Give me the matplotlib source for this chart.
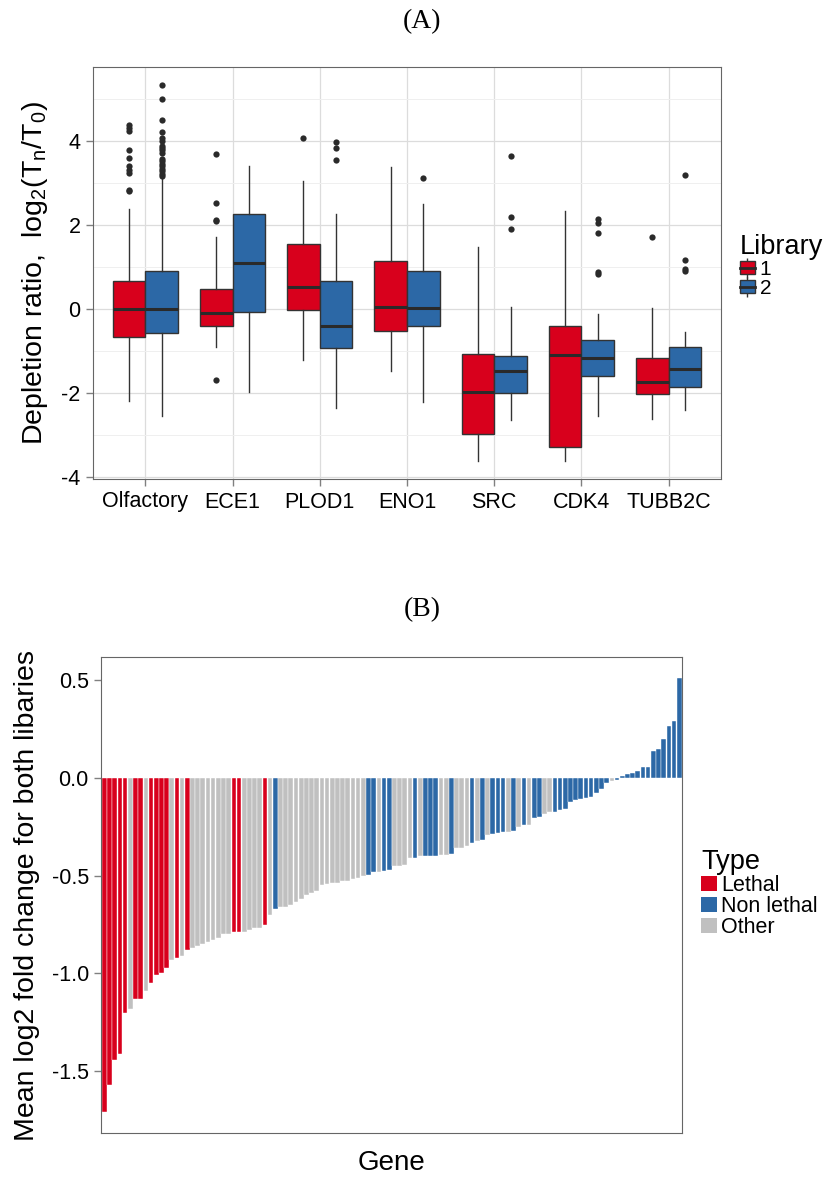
import numpy as np
import matplotlib
matplotlib.use("Agg")
import matplotlib.pyplot as plt
from matplotlib.patches import Patch
from matplotlib.lines import Line2D
from matplotlib.legend_handler import HandlerTuple

plt.rcParams['font.family'] = ['Liberation Sans', 'DejaVu Sans']
plt.rcParams['axes.unicode_minus'] = False

# ---- panel A data: box stats ----
genes = ['Olfactory', 'ECE1', 'PLOD1', 'ENO1', 'SRC', 'CDK4', 'TUBB2C']

lib1_q1 = [-0.68, -0.40, -0.04, -0.52, -2.99, -3.29, -2.02]
lib1_med = [0.00, -0.09, 0.51, 0.05, -1.97, -1.11, -1.74]
lib1_q3 = [0.65, 0.47, 1.54, 1.13, -1.07, -0.42, -1.16]
lib1_lo = [-2.19, -0.91, -1.23, -1.48, -3.62, -3.62, -2.62]
lib1_hi = [2.37, 1.71, 3.03, 3.37, 1.47, 2.33, 0.02]
lib1_out = [[2.79, 2.83, 3.23, 3.31, 3.39, 3.59, 3.77, 4.22, 4.30, 4.36],
            [3.69, 2.52, 2.12, 2.08, -1.69],
            [4.05],
            [],
            [],
            [],
            [1.70]]

lib2_q1 = [-0.58, -0.08, -0.94, -0.40, -2.00, -1.59, -1.87]
lib2_med = [0.00, 1.09, -0.42, 0.02, -1.48, -1.16, -1.44]
lib2_q3 = [0.90, 2.25, 0.66, 0.89, -1.13, -0.74, -0.90]
lib2_lo = [-2.55, -1.98, -2.36, -2.23, -2.64, -2.54, -2.40]
lib2_hi = [3.15, 3.40, 2.26, 2.49, 0.05, -0.12, -0.56]
lib2_out = [[5.32, 5.00, 4.48, 4.21, 4.05, 4.00, 3.88, 3.82, 3.77, 3.71,
             3.56, 3.51, 3.45, 3.39, 3.33, 3.27, 3.20, 3.15],
            [],
            [3.97, 3.83, 3.54],
            [3.10],
            [3.64, 2.19, 1.90],
            [2.13, 2.05, 1.81, 0.87, 0.82],
            [3.17, 1.16, 0.95, 0.89]]

# ---- panel B data: mean log2 fold change per gene (sorted) ----
fold_change = [
    -1.71, -1.57, -1.44, -1.41, -1.20, -1.18, -1.13, -1.13, -1.09, -1.05,
    -1.01, -1.00, -0.97, -0.93, -0.92, -0.91, -0.88, -0.87, -0.86, -0.85,
    -0.84, -0.83, -0.82, -0.80, -0.80, -0.79, -0.79, -0.79, -0.78, -0.77,
    -0.77, -0.75, -0.70, -0.67, -0.66, -0.66, -0.65, -0.635, -0.62, -0.60,
    -0.59, -0.58, -0.55, -0.545, -0.54, -0.54, -0.53, -0.53, -0.52, -0.51,
    -0.50, -0.495, -0.48, -0.48, -0.477, -0.47, -0.45, -0.45, -0.446, -0.41,
    -0.41, -0.40, -0.40, -0.40, -0.40, -0.395, -0.395, -0.39, -0.36, -0.358,
    -0.35, -0.335, -0.325, -0.318, -0.294, -0.286, -0.283, -0.277, -0.276, -0.27,
    -0.25, -0.242, -0.24, -0.204, -0.20, -0.186, -0.175, -0.174, -0.165, -0.158,
    -0.126, -0.116, -0.107, -0.102, -0.097, -0.078, -0.06, -0.026, -0.019, -0.013,
    0.009, 0.019, 0.026, 0.036, 0.053, 0.056, 0.138, 0.147, 0.198, 0.264,
    0.29, 0.51]
gene_type = list(
    "LLLLLOLLOL" "LLLOLOLOOO" "OOOOOLLOOO" "OLONOOOOOO"
    "OOOOOOOOOO" "ONNONNOOOO" "NONNNOONOO" "ONONONNNON"
    "ONONNOONNN" "NNNNNNNNON" "NNNNNNNNNN" "NN")

type_names = {'L': 'Lethal', 'N': 'Non lethal', 'O': 'Other'}
type_colors = {'L': '#D8001C', 'N': '#2C68A6', 'O': '#C0C0C0'}
lib_colors = ['#D8001C', '#2C68A6']

W, H = 829, 1181
fig = plt.figure(figsize=(W / 100, H / 100), dpi=100)

border = '#666666'
tickc = '#808080'

# ================= panel A =================
ax1 = fig.add_axes([93 / W, 1 - 479 / H, (721 - 93) / W, (479 - 67) / H])
pos = np.arange(1, len(genes) + 1)
half = 0.1875
for k, (q1, med, q3, lo, hi, out) in enumerate([
        (lib1_q1, lib1_med, lib1_q3, lib1_lo, lib1_hi, lib1_out),
        (lib2_q1, lib2_med, lib2_q3, lib2_lo, lib2_hi, lib2_out)]):
    stats = [dict(q1=q1[i], med=med[i], q3=q3[i], whislo=lo[i], whishi=hi[i],
                  fliers=out[i]) for i in range(len(genes))]
    offs = -half if k == 0 else half
    ax1.bxp(stats, positions=pos + offs, widths=2 * half, patch_artist=True,
            showcaps=False,
            boxprops=dict(facecolor=lib_colors[k], edgecolor='#333333', linewidth=1.0),
            medianprops=dict(color='#2a2a2a', linewidth=2.2),
            whiskerprops=dict(color='#333333', linewidth=1.0),
            flierprops=dict(marker='o', markerfacecolor='#2a2a2a', markeredgecolor='none',
                            markersize=4.5),
            manage_ticks=False, zorder=3)

ax1.set_xlim(0.4, 7.6)
ax1.set_ylim(-4.05, 5.75)
ax1.set_xticks(pos)
ax1.set_xticklabels(genes)
ax1.set_yticks([-4, -2, 0, 2, 4])
ax1.set_yticks([-3, -1, 1, 3, 5], minor=True)
ax1.grid(which='major', color='#DCDCDC', linewidth=0.9, zorder=0)
ax1.grid(which='minor', axis='y', color='#EFEFEF', linewidth=0.7, zorder=0)
ax1.set_axisbelow(True)
ax1.tick_params(which='major', labelsize=15.5, color=tickc, length=5, width=1, pad=4)
ax1.tick_params(which='minor', length=0)
for s in ax1.spines.values():
    s.set_color(border)
ax1.set_ylabel(r'Depletion ratio,  log$_\mathregular{2}$(T$_\mathregular{n}$/T$_\mathregular{0}$)',
               fontsize=20.5, labelpad=8)
fig.text(422 / W, 1 - 22 / H, '(A)', family='Liberation Serif', fontsize=20,
         ha='center', va='center')

# legend key: whisker stub, box and median line drawn on top of each other
lib_handles = [(Line2D([], [], color='#333333', marker='|', markersize=15, linestyle='none'),
                Patch(facecolor=c, edgecolor='#333333', linewidth=1.0),
                Line2D([], [], color='#2a2a2a', linewidth=2))
               for c in lib_colors]
ax1.legend(lib_handles, ['1', '2'], title='Library', loc='upper left',
           bbox_to_anchor=(740 / W, 1 - 234 / H), bbox_transform=fig.transFigure,
           frameon=False, fontsize=15, title_fontsize=19.5, alignment='left',
           handler_map={tuple: HandlerTuple(ndivide=1, pad=0)},
           handlelength=0.7, handleheight=0.6, handletextpad=0.25,
           labelspacing=0.0, borderpad=0, borderaxespad=0)

# ================= panel B =================
ax2 = fig.add_axes([101.3 / W, 1 - 1133 / H, 581 / W, (1133 - 657.3) / H])
xb = np.arange(1, len(fold_change) + 1)
ax2.bar(xb, fold_change, width=0.9, color=[type_colors[t] for t in gene_type],
        edgecolor='white', linewidth=0.3)
ax2.set_xlim(0.4, len(fold_change) + 0.6)
ax2.set_ylim(-1.815, 0.615)
ax2.set_xticks([])
ax2.set_yticks([-1.5, -1.0, -0.5, 0.0, 0.5])
ax2.set_yticklabels(['-1.5', '-1.0', '-0.5', '0.0', '0.5'])
ax2.tick_params(labelsize=15.5, color=tickc, length=5, width=1, pad=4)
for s in ax2.spines.values():
    s.set_color(border)
ax2.set_xlabel('Gene', fontsize=20, labelpad=12)
ax2.set_ylabel('Mean log2 fold change for both libaries', fontsize=20.5, labelpad=8)
fig.text(422 / W, 1 - 610 / H, '(B)', family='Liberation Serif', fontsize=20,
         ha='center', va='center')

type_handles = [Patch(facecolor=type_colors[t], edgecolor='none') for t in 'LNO']
ax2.legend(type_handles, [type_names[t] for t in 'LNO'], title='Type', loc='upper left',
           bbox_to_anchor=(701 / W, 1 - 849 / H), bbox_transform=fig.transFigure,
           frameon=False, fontsize=15.5, title_fontsize=19.5, alignment='left',
           handlelength=0.75, handleheight=0.75, handletextpad=0.2,
           labelspacing=0.0, borderpad=0, borderaxespad=0)

fig.savefig('out.png', dpi=100)
